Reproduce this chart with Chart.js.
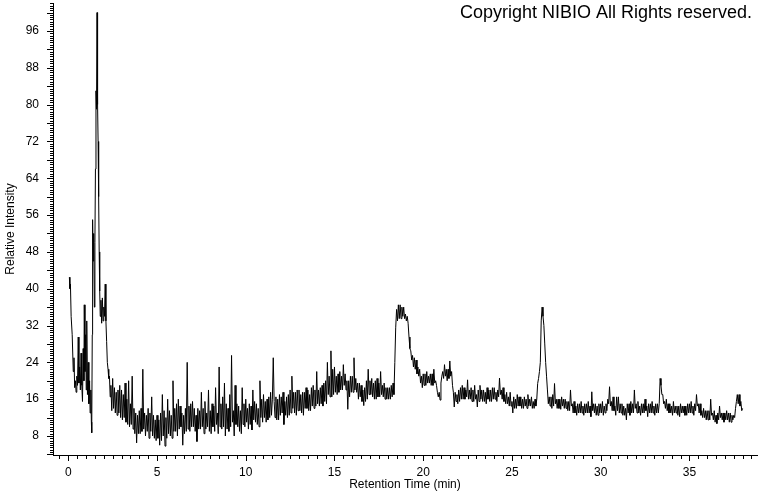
<!DOCTYPE html>
<html>
<head>
<meta charset="utf-8">
<script src="https://cdn.jsdelivr.net/npm/chart.js@4.4.1/dist/chart.umd.min.js"></script>
<style>
  html, body { margin: 0; padding: 0; background: #fff; }
  canvas { display: block; }
</style>
</head>
<body>
<canvas id="chart" width="760" height="492"></canvas>
<script>
// axis labels
const xTickLabels = [0, 5, 10, 15, 20, 25, 30, 35];
const yTickLabels = [8, 16, 24, 32, 40, 48, 56, 64, 72, 80, 88, 96];

// solvent front and the big early peak, read point by point
const earlyTimes = [
  0.06, 0.09, 0.12, 0.16, 0.22, 0.28, 0.32, 0.36, 0.40, 0.44,
  0.48, 0.52, 0.56, 0.60, 0.64, 0.68, 0.72, 0.76, 0.80, 0.84,
  0.88, 0.90, 0.94, 0.98, 1.01, 1.04, 1.08, 1.12, 1.16, 1.20,
  1.23, 1.27, 1.30, 1.32, 1.35, 1.37, 1.40, 1.43, 1.47, 1.50,
  1.53, 1.56, 1.59, 1.62, 1.65, 1.68, 1.71, 1.74, 1.77, 1.80,
  1.84, 1.88, 1.92, 1.96, 2.00, 2.04, 2.08, 2.12, 2.16, 2.20,
  2.24, 2.28, 2.32, 2.36
];
const earlyValues = [
  42.5, 40, 41, 34, 30, 22, 25, 18.5, 20, 17.5,
  21, 19, 29.5, 19.5, 23, 18, 26, 19, 15.5, 27,
  20, 36.5, 22, 30, 18, 33, 17, 24, 15, 20,
  13, 18, 11, 8.7, 30, 55, 46, 52, 36, 50,
  66, 83, 79, 100, 80, 72, 60, 48, 39.5, 34,
  37.5, 32.5, 38, 33, 36, 34, 41, 33, 28.5, 24,
  22.5, 20.5, 21, 16.5
];

// rest of the run, one reading every 0.05 min from 2.4 min
const traceStart = 2.4;
const traceStep = 0.05;
const traceValues = [
  // 2.4
  19, 13.5, 20.5, 14, 18.5, 13, 17.5, 12.5, 18, 13, 19, 12,
  // 3
  18, 11.5, 17, 12, 19.5, 11, 16, 10.5, 20, 10, 15, 10.5, 21, 9.5, 14, 8.5, 13, 6.5, 12.5, 8.5,
  // 4
  13.5, 8.5, 14, 9, 22.5, 9.5, 13, 8, 12.5, 9, 14, 7.5, 13, 9, 16.5, 8, 12.5, 7.5, 11.5, 7,
  // 5
  12.5, 7.5, 11.5, 6, 13, 7, 17, 8, 13.5, 5.8, 12, 7.5, 16, 8.5, 13.5, 8, 12.5, 7.5, 20, 9,
  // 6
  14, 9, 15, 8, 16, 9.5, 14.5, 10, 13, 6, 12.5, 8.5, 14, 9, 24, 9.5, 14.5, 9, 15, 10,
  // 7
  15.5, 10, 14, 9, 12.5, 6.8, 14, 9.5, 13.5, 9.5, 17.5, 10, 14, 8.5, 15.5, 9.5, 13, 10, 18, 9,
  // 8
  13.5, 8.5, 15, 10, 14.5, 9, 18.5, 10.5, 13, 8.5, 23, 10, 15, 9.5, 16.5, 10, 19.5, 8, 15, 9.5,
  // 9
  14, 9, 17, 10, 25.5, 11, 13.5, 8, 19, 10.5, 15, 10, 14.5, 9, 13.5, 8.5, 18.5, 10.5, 15, 10,
  // 10
  16, 11, 14, 9.5, 15, 10.5, 14.5, 9.3, 18, 11.5, 15.5, 11, 15, 10.5, 14, 10, 20, 12, 16, 11,
  // 11
  17, 12, 15.5, 11, 16, 11.5, 16.5, 12, 17.5, 12.5, 16, 25, 15.5, 12, 16.5, 11.5, 16, 11.5, 17, 12.5,
  // 12
  16.5, 13, 17.5, 10.5, 15.5, 12.5, 16.5, 12, 17, 12.5, 18, 13, 21, 14, 17.5, 13, 17.5, 12.5, 18, 13.5,
  // 13
  18, 13.5, 17, 13, 17.5, 12.5, 17.5, 14, 18.5, 14, 18, 13.5, 17, 13.5, 18.5, 14.5, 19, 14, 18, 14.5,
  // 14
  22, 15, 18, 14.5, 18.5, 15, 19, 14.5, 19.5, 15.5, 20, 15, 24, 17, 21, 16.5, 26.5, 16.5, 22.5, 17,
  // 15
  23, 17.5, 21, 17, 21.5, 17.5, 22, 18, 21, 18, 23.5, 19, 21.5, 18, 20, 13.8, 20, 16.5, 21, 17.5,
  // 16
  21, 17.5, 25, 18, 20.5, 17.5, 19.5, 16, 19.5, 16.5, 19, 15.5, 18, 14.6, 18.5, 15.5, 20, 16, 22.5, 17,
  // 17
  20, 17, 20.5, 16.5, 19.5, 16, 20, 16, 20.5, 16.5, 19.5, 16.5, 22, 17, 19, 16.5, 19.5, 16, 18.5, 16,
  // 18
  18.5, 16, 18.5, 16, 19, 16.5, 19.5, 17, 24, 31.5, 35.5, 33, 36.5, 33.5, 36.5, 33.5, 36, 34, 36, 33.5,
  // 19
  34.5, 33, 34, 32.5, 29.5, 27, 26.5, 24.5, 25.5, 23, 25, 22.5, 24.5, 21.5, 23, 21, 22.5, 19.5, 21, 18.5,
  // 20
  21.5, 19, 21.5, 19, 22, 19.5, 21, 19.5, 21.5, 19, 21.5, 19, 22.5, 19.5, 20, 19, 17.5, 16.5, 17.5, 15.8,
  // 21
  19.5, 21, 22, 20.5, 23.5, 21, 22.5, 20, 22.5, 20.5, 24.3, 21, 22, 19, 17.5, 14.3, 17.5, 15.5, 17, 15,
  // 22
  18, 15.5, 18.5, 16, 19, 16, 18.5, 16, 18, 16.5, 20.2, 16, 18, 16, 18.5, 15.5, 18, 15.5, 19, 16,
  // 23
  17, 14.3, 18, 15.5, 19, 16, 18, 15.5, 18, 15.5, 17.5, 15, 18.5, 16, 18, 15.5, 18, 15.5, 18.5, 16,
  // 24
  18.5, 16, 17.5, 15.5, 18, 16.5, 20.6, 17, 18, 16, 18.5, 15.5, 17, 15, 17.5, 15, 16.5, 14.5, 17.5, 14.5,
  // 25
  15.5, 13, 16.5, 14, 16, 14, 17, 14.5, 16.5, 14.5, 16.5, 14, 16, 14, 16.5, 14.5, 16, 14, 17, 14.5,
  // 26
  16, 14.5, 16.5, 14, 15.5, 14, 16, 14.5, 16, 19.4, 20.5, 22, 24, 33, 36, 34, 32, 28, 24, 21,
  // 27
  18, 15, 16.5, 14.5, 16.5, 14, 17, 14.5, 19.4, 15, 16, 14, 16, 14, 16, 13.8, 16.5, 14.5, 16, 14,
  // 28
  16, 14, 15.5, 13.5, 15.5, 13.5, 18, 14.5, 15, 13, 15.5, 13, 14.5, 12.5, 15, 13, 15, 13, 15.5, 13,
  // 29
  14.5, 12.5, 15, 13, 15, 13, 15.5, 13, 14.5, 12.2, 17.6, 13.5, 15, 13, 15, 12.5, 14.5, 12.5, 15, 13,
  // 30
  15, 13, 15.5, 12.5, 14.5, 13, 15, 13.5, 16, 15, 18.7, 14.5, 15.5, 13.5, 16.5, 13.5, 14.5, 12.5, 16.5, 13.5,
  // 31
  16.5, 13, 15, 13, 15, 12.5, 14.5, 12.5, 14, 11.5, 15, 13, 15, 12.5, 15.5, 13, 15, 13, 18, 14,
  // 32
  15, 13, 15.5, 13, 14.5, 12.5, 15, 13, 15, 13, 16, 13.5, 14.5, 12.2, 15, 13, 15, 13, 15.5, 13,
  // 33
  14.5, 12.5, 15, 13, 15, 13, 15, 20.5, 19, 17, 17, 15, 15.5, 14, 16, 13.5, 15, 13, 15, 13,
  // 34
  14.5, 12.5, 15.5, 13, 14.5, 13, 14.5, 12.5, 14.5, 12.2, 15, 13, 14.5, 13, 14.5, 12.5, 14.5, 12.5, 15, 13,
  // 35
  15, 13, 15.5, 13, 14.5, 12.5, 15, 13.5, 17, 14.5, 15, 13, 15, 12.5, 13.5, 12, 14, 12, 13.5, 11.5,
  // 36
  13.5, 11.5, 13.5, 11.5, 16, 12.5, 13, 11.5, 13.5, 11, 12.5, 10.7, 13, 11.5, 14.5, 12, 13, 11.5, 13, 11,
  // 37
  13, 11.5, 13.5, 11.5, 13, 11, 13, 11, 12.5, 11.5, 12.5, 12, 14, 15.5, 17, 15, 17, 14.5, 15.5, 13.5,
  // 38
  14
];

const points = earlyTimes.map((t, i) => ({ x: t, y: earlyValues[i] }));
traceValues.forEach((v, i) => {
  points.push({ x: Math.round((traceStart + i * traceStep) * 1000) / 1000, y: v });
});

const fontFamily = '"Liberation Sans", Arial, sans-serif';

// small tick marks along both axes plus the copyright line
const axisDecor = {
  id: 'axisDecor',
  afterDraw(chart) {
    const { ctx, chartArea, scales } = chart;
    ctx.save();
    ctx.strokeStyle = '#000';
    ctx.lineWidth = 1;
    ctx.beginPath();
    for (let v = -0.5; v <= 38.75; v += 0.5) {
      const px = Math.round(scales.x.getPixelForValue(v)) + 0.5;
      const len = v % 5 === 0 ? 6 : 4;
      ctx.moveTo(px, chartArea.bottom);
      ctx.lineTo(px, chartArea.bottom + len);
    }
    for (let v = 4; v <= 102; v += 0.5) {
      const py = Math.round(scales.y.getPixelForValue(v)) + 0.5;
      const len = v % 4 === 0 ? 6 : 3;
      ctx.moveTo(chartArea.left, py);
      ctx.lineTo(chartArea.left - len, py);
    }
    ctx.stroke();

    ctx.fillStyle = '#000';
    ctx.font = '18px ' + fontFamily;
    ctx.textAlign = 'right';
    ctx.textBaseline = 'alphabetic';
    ctx.fillText('Copyright NIBIO All Rights reserved.', 752, 18);
    ctx.restore();
  }
};

new Chart(document.getElementById('chart'), {
  type: 'line',
  data: {
    datasets: [{
      data: points,
      borderColor: '#000',
      borderWidth: 1,
      pointRadius: 0,
      tension: 0,
      fill: false
    }]
  },
  options: {
    responsive: false,
    animation: false,
    devicePixelRatio: 1,
    layout: { padding: { top: 3, right: 3, left: 0, bottom: 0 } },
    plugins: {
      legend: { display: false },
      tooltip: { enabled: false }
    },
    scales: {
      x: {
        type: 'linear',
        min: -0.862,
        max: 38.81,
        afterFit(scale) {
          scale.height = 37;
          scale.paddingLeft = 0;
          scale.paddingRight = 0;
        },
        afterBuildTicks(scale) { scale.ticks = xTickLabels.map(v => ({ value: v })); },
        grid: { display: false, drawTicks: false },
        border: { display: true, color: '#000', width: 1 },
        ticks: {
          padding: 10,
          color: '#000',
          font: { family: fontFamily, size: 12 },
          maxRotation: 0,
          autoSkip: false
        },
        title: {
          display: true,
          text: 'Retention Time (min)',
          color: '#000',
          font: { family: fontFamily, size: 12 },
          padding: { top: 0, bottom: 0 }
        }
      },
      y: {
        min: 3.87,
        max: 102.08,
        afterFit(scale) {
          scale.width = 53;
          scale.paddingTop = 0;
          scale.paddingBottom = 0;
        },
        afterBuildTicks(scale) { scale.ticks = yTickLabels.map(v => ({ value: v })); },
        grid: { display: false, drawTicks: false },
        border: { display: true, color: '#000', width: 1 },
        ticks: {
          padding: 14,
          color: '#000',
          font: { family: fontFamily, size: 12 },
          autoSkip: false
        },
        title: {
          display: true,
          text: 'Relative Intensity',
          color: '#000',
          font: { family: fontFamily, size: 12 },
          padding: { top: 3, bottom: 0 }
        }
      }
    }
  },
  plugins: [axisDecor]
});
</script>
</body>
</html>
